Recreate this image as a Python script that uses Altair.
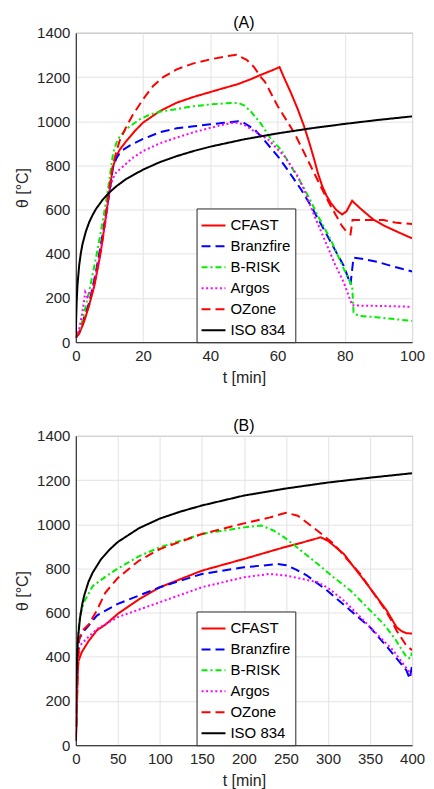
import altair as alt
import pandas as pd

names = ["CFAST", "Branzfire", "B-RISK", "Argos", "OZone", "ISO 834"]
colors = ["#FF0000", "#0000FF", "#00EE00", "#FF00FF", "#FF0000", "#000000"]
dashes = [[1, 0], [9, 5], [6, 3, 2, 3], [2, 2.6], [9, 5], [1, 0]]

# ---------------- Panel A ----------------
tA_cfast = [0, 1, 2, 2.7, 4, 5.5, 7.4, 8.8, 10.2, 11, 12, 13, 15, 17.5, 20, 25, 30, 35, 40, 44, 48, 52, 55, 58, 60.6, 62, 64, 66, 67.9, 69.5, 70.9, 72, 73.3, 74.5, 75.8, 77.5, 79.2, 80.5, 82.2, 83, 85, 88.5, 92, 96, 100]
yA_cfast = [20, 40, 75, 104, 170, 254, 406, 555, 706, 790, 840, 870, 910, 955, 994, 1046, 1084, 1110, 1132, 1150, 1167, 1190, 1210, 1228, 1245, 1195, 1128, 1055, 977, 900, 827, 765, 706, 665, 631, 598, 578, 592, 640, 628, 600, 555, 525, 497, 470]

tA_branz = [0, 1, 2, 4, 6, 8, 10, 11, 12, 13, 14, 16, 20, 25, 30, 35, 40, 44, 48.3, 50, 53.2, 56, 60.1, 63, 67, 70, 73.8, 77, 79.7, 81.7, 82.2, 82.6, 85, 90, 95, 100]
yA_branz = [20, 45, 90, 180, 320, 490, 680, 790, 830, 855, 870, 890, 920, 950, 968, 977, 986, 993, 1000, 992, 962, 915, 841, 780, 691, 615, 510, 420, 345, 262, 330, 382, 378, 362, 340, 320]

tA_brisk = [0, 1, 2, 4.3, 6.3, 8.1, 9.7, 11.1, 12, 13, 15, 18.8, 22, 25, 30, 35, 40, 45, 48.3, 50, 52, 55, 58, 61, 64, 67, 69.5, 71.9, 74, 75.8, 78, 80.2, 82.2, 82.6, 84.1, 90, 95, 100]
yA_brisk = [20, 50, 100, 254, 406, 555, 706, 857, 900, 930, 965, 1007, 1030, 1043, 1055, 1068, 1076, 1082, 1083, 1072, 1045, 990, 920, 872, 796, 721, 650, 575, 515, 465, 390, 315, 254, 134, 119, 112, 104, 96]

tA_argos = [0, 1, 2, 2.8, 3.4, 5, 7, 9, 10, 11, 12, 14, 17, 20, 25, 30, 35, 40, 44, 47.4, 50, 52.3, 57.2, 62.1, 66, 67.9, 71, 74.8, 77, 79.7, 82.2, 85, 90, 95, 100]
yA_argos = [20, 60, 140, 226, 205, 240, 380, 560, 680, 740, 768, 795, 835, 865, 900, 926, 950, 970, 985, 995, 985, 962, 917, 841, 751, 691, 570, 435, 355, 270, 167, 165, 164, 162, 160]

tA_ozone = [0, 1, 2, 4, 6, 8, 10, 11, 12, 13, 15, 17, 20, 23, 26, 30, 35, 40, 44, 47.8, 50.8, 53, 55.2, 56.2, 60.1, 65, 68.9, 72.8, 75.8, 79.2, 80.5, 81.7, 82.3, 91.5, 95.5, 100]
yA_ozone = [20, 40, 80, 170, 300, 470, 700, 800, 860, 910, 975, 1030, 1100, 1160, 1200, 1235, 1262, 1280, 1292, 1301, 1278, 1245, 1196, 1180, 1067, 947, 827, 706, 616, 525, 500, 488, 553, 553, 540, 535]

tA_iso = [0, 0.1, 0.25, 0.5, 1, 1.5, 2, 3, 4, 5, 6, 8, 10, 12, 15, 20, 25, 30, 35, 40, 50, 60, 70, 80, 90, 100]
yA_iso = [20, 108, 185, 261, 349, 404, 445, 502, 544, 576, 603, 645, 678, 705, 739, 781, 815, 842, 865, 885, 918, 945, 968, 988, 1006, 1022]

# ---------------- Panel B ----------------
tB_cfast = [0, 1, 2, 3, 5, 7, 15, 25, 35, 50, 75, 100, 150, 200, 248, 270, 291.4, 300, 318.8, 332, 346.3, 358, 369.8, 381.6, 388, 393.3, 400]
yB_cfast = [20, 100, 300, 380, 400, 421, 470, 520, 545, 595, 660, 715, 790, 843, 896, 918, 941, 925, 866, 800, 730, 670, 610, 534, 515, 507, 505]

tB_branz = [0, 1, 2, 4, 8, 15, 25, 50, 75, 100, 125, 150, 200, 240, 250, 262, 275, 299, 326.7, 350, 373.8, 393.3, 397.2, 400]
yB_branz = [20, 200, 420, 480, 510, 540, 587, 640, 677, 715, 745, 775, 805, 820, 815, 795, 768, 700, 610, 534, 429, 339, 301, 360]

tB_brisk = [0, 1, 2, 4, 6, 10, 20, 35, 50, 75, 100, 150, 200, 221, 235, 248, 265, 287.5, 305, 326.7, 345, 365.9, 380, 393.3, 398, 400]
yB_brisk = [20, 250, 450, 560, 600, 650, 720, 762, 800, 855, 896, 956, 986, 994, 972, 941, 890, 821, 765, 700, 630, 550, 480, 399, 392, 420]

tB_argos = [0, 1, 2, 4, 7, 15, 25, 50, 100, 150, 200, 230, 250, 270, 287.5, 300, 318.8, 336, 354, 377.6, 395.3, 400]
yB_argos = [20, 200, 380, 440, 460, 490, 525, 580, 647, 715, 760, 775, 768, 752, 738, 712, 655, 590, 519, 429, 339, 318]

tB_ozone = [0, 2, 4, 8, 15, 25, 35, 50, 75, 100, 150, 200, 230, 250, 264, 287.5, 307, 322, 338.4, 352, 365.9, 375, 381.6, 393.3, 398.6, 400]
yB_ozone = [20, 300, 480, 520, 545, 610, 690, 757, 835, 888, 956, 1004, 1030, 1052, 1039, 971, 911, 845, 775, 700, 625, 568, 519, 450, 435, 430]

tB_iso = [0, 0.25, 0.5, 1, 2, 3, 5, 7.5, 10, 15, 20, 30, 40, 50, 75, 100, 125, 150, 200, 250, 300, 350, 400]
yB_iso = [20, 185, 261, 349, 445, 502, 576, 636, 678, 739, 781, 842, 885, 920, 982, 1026, 1058, 1085, 1130, 1162, 1189, 1211, 1231]


def build(series_list):
    rows = []
    for name, ts, ys in series_list:
        for i, (t, y) in enumerate(zip(ts, ys)):
            rows.append({"series": name, "t": t, "theta": y, "idx": i})
    return pd.DataFrame(rows)


dfA = build([
    ("CFAST", tA_cfast, yA_cfast), ("Branzfire", tA_branz, yA_branz),
    ("B-RISK", tA_brisk, yA_brisk), ("Argos", tA_argos, yA_argos),
    ("OZone", tA_ozone, yA_ozone), ("ISO 834", tA_iso, yA_iso),
])
dfB = build([
    ("CFAST", tB_cfast, yB_cfast), ("Branzfire", tB_branz, yB_branz),
    ("B-RISK", tB_brisk, yB_brisk), ("Argos", tB_argos, yB_argos),
    ("OZone", tB_ozone, yB_ozone), ("ISO 834", tB_iso, yB_iso),
])

legend = alt.Legend(
    orient="none", legendX=121, legendY=176,
    strokeColor="#262626", fillColor="white", padding=4,
    symbolType="stroke", symbolSize=576, symbolStrokeWidth=2,
    labelFont="Liberation Sans", labelFontSize=15, labelColor="#000000",
    labelOffset=4, rowPadding=-5.5,
)

W = 337


def panel(df, xmax, xstep, title):
    return alt.Chart(df).mark_line(strokeWidth=2, clip=True).encode(
        x=alt.X("t:Q", scale=alt.Scale(domain=[0, xmax], nice=False),
                axis=alt.Axis(values=list(range(0, xmax + 1, xstep)), title="t [min]", format="d")),
        y=alt.Y("theta:Q", scale=alt.Scale(domain=[0, 1400], nice=False),
                axis=alt.Axis(values=list(range(0, 1401, 200)), title="θ [°C]", format="d")),
        color=alt.Color("series:N", scale=alt.Scale(domain=names, range=colors), title=None, legend=legend),
        strokeDash=alt.StrokeDash("series:N", scale=alt.Scale(domain=names, range=dashes), title=None, legend=legend),
        order=alt.Order("idx:Q"),
    ).properties(width=W, height=310, title=title)


chart = alt.vconcat(
    panel(dfA, 100, 20, "(A)"),
    panel(dfB, 400, 50, "(B)"),
    spacing=31,
).resolve_scale(
    color="independent", strokeDash="independent"
).resolve_legend(
    color="independent", strokeDash="independent"
).properties(
    padding={"left": 6, "right": 0, "top": 5, "bottom": 5}
).configure_axis(
    grid=True, gridColor="#e3e3e3", gridWidth=1,
    domainColor="#262626", ticks=False, labelPadding=6,
    labelFont="Liberation Sans", labelFontSize=15, labelColor="#262626",
    titleFont="Liberation Sans", titleFontSize=16, titleColor="#262626",
    titleFontWeight="normal", labelFlush=False, titlePadding=6,
).configure_view(
    stroke="#262626", strokeWidth=1,
).configure_title(
    font="Liberation Sans", fontSize=16, fontWeight="normal", color="#000000", offset=-5,
)

chart.save("out.html", embed_options={"renderer": "svg", "actions": False})
